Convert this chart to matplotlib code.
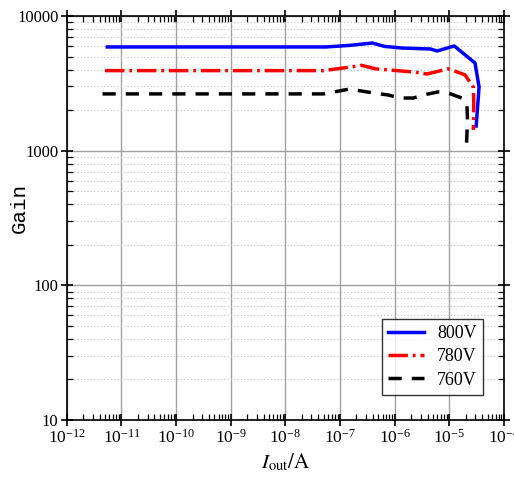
import matplotlib
matplotlib.use("Agg")
import matplotlib.pyplot as plt
from matplotlib.ticker import LogLocator, NullFormatter

plt.rcParams['font.family'] = ['Liberation Serif', 'DejaVu Serif']
plt.rcParams['mathtext.fontset'] = 'stix'

# 800 V
x800 = [5.5e-12, 5.5e-8, 1.5e-7, 3.9e-7, 6.5e-7, 1.4e-6, 4.5e-6, 6e-6, 1.23e-5, 2.95e-5, 3.5e-5, 3.1e-5]
g800 = [5890, 5890, 6050, 6300, 5950, 5780, 5690, 5500, 5990, 4480, 2970, 1525]
# 780 V
x780 = [5.0e-12, 5.0e-8, 1.0e-7, 2.5e-7, 4.5e-7, 2.2e-6, 3.9e-6, 9.5e-6, 1.4e-5, 1.94e-5, 2.75e-5, 2.8e-5, 2.75e-5]
g780 = [3930, 3930, 4080, 4300, 4050, 3840, 3710, 4050, 3840, 3650, 2970, 2260, 1425]
# 760 V
x760 = [4.5e-12, 5.0e-8, 1.5e-7, 3.1e-7, 7.6e-7, 1.26e-6, 2.2e-6, 3.3e-6, 6.2e-6, 9.5e-6, 1.7e-5, 2.1e-5, 2.15e-5, 2.1e-5, 2.05e-5]
g760 = [2640, 2640, 2870, 2730, 2590, 2460, 2460, 2590, 2730, 2680, 2460, 2180, 1690, 1350, 1050]

xticks = [10.0**e for e in range(-12, -3)]
yticks = [10, 100, 1000, 10000]

fig = plt.figure(figsize=(5.14, 4.82), dpi=100)
ax = fig.add_axes([0.130, 0.1286, 0.8505, 0.8382])

ax.plot(x800, g800, color='#0000ff', lw=2.5, label='800V')
ax.plot(x780, g780, color='#ff0000', lw=2.5, linestyle=(0, (5.6, 1.4, 0.8, 1.4)), label='780V')
ax.plot(x760, g760, color='#000000', lw=2.5, linestyle=(0, (3.8, 2.9)), label='760V')

ax.set_xscale('log')
ax.set_yscale('log')
ax.set_xlim(1e-12, 1e-4)
ax.set_ylim(10, 10000)
ax.set_xticks(xticks)
ax.set_yticks(yticks)
ax.set_yticklabels([str(v) for v in yticks])
ax.xaxis.set_minor_locator(LogLocator(base=10, subs=range(2, 10), numticks=20))
ax.yaxis.set_minor_locator(LogLocator(base=10, subs=range(2, 10), numticks=20))
ax.xaxis.set_minor_formatter(NullFormatter())
ax.yaxis.set_minor_formatter(NullFormatter())

ax.grid(True, which='major', axis='both', color='#a0a0a0', lw=1.0, ls='-')
ax.grid(True, which='minor', axis='y', color='#c0c0c0', lw=0.8, ls=(0, (1, 2)))
ax.set_axisbelow(True)

ax.tick_params(which='major', direction='inout', length=8, width=1.2, top=True, right=True, pad=2)
ax.tick_params(axis='y', which='major', labelsize=12)
ax.tick_params(axis='x', which='major', labelsize=12.5)
ax.tick_params(which='minor', direction='in', length=4, width=0.9, top=True, right=True)
for s in ax.spines.values():
    s.set_linewidth(1.2)

ax.set_xlabel(r'$I_{\mathrm{out}}/\mathrm{A}$', fontsize=15, labelpad=4)
ax.set_ylabel('Gain', fontsize=15, family='Liberation Mono')
ax.yaxis.set_label_coords(-0.086, 0.525)

leg = ax.legend(loc='lower right', bbox_to_anchor=(0.952, 0.062), borderaxespad=0, fontsize=13, frameon=True,
                fancybox=False, edgecolor='black', handlelength=2.0, borderpad=0.35, labelspacing=0.35,
                handletextpad=0.7)
leg.get_frame().set_linewidth(1.0)

fig.savefig('out.png', dpi=100)
